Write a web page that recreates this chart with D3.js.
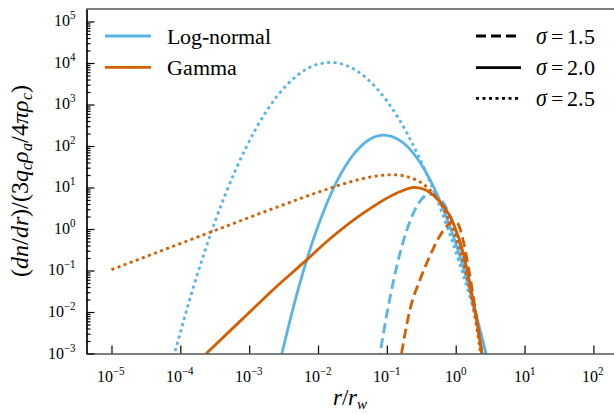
<!DOCTYPE html>
<html><head><meta charset="utf-8">
<script src="https://cdn.jsdelivr.net/npm/d3@7"></script>
<style>
@font-face { font-family: "RefSerif"; src: local("Liberation Serif"), local("LiberationSerif-Regular"); font-style: normal; }
@font-face { font-family: "RefSerif"; src: local("Liberation Serif Italic"), local("LiberationSerif-Italic"); font-style: italic; }
body{margin:0;background:#fff}
svg text, svg tspan { font-family: "RefSerif", "Liberation Serif"; }
</style>
</head><body>
<svg id="c" width="614" height="414" style="font-family:'Liberation Serif'"></svg>
<script>
// ---------- data ----------
const xTickExps = [-5,-4,-3,-2,-1,0,1,2];
const yTickExps = [-3,-2,-1,0,1,2,3,4,5];
const seriesNames = ["Log-normal","Gamma"];
const sigmaLabels = ["1.5","2.0","2.5"];

// Log-normal
const lnR15 = [0.07586,0.1,0.1259,0.1585,0.1995,0.2512,0.3162,0.3981,0.5012,0.631,0.7943,1.0,1.259,1.585,1.995,2.512];
const lnY15 = [5.93e-4,0.009004,0.06094,0.2988,1.061,2.731,5.088,6.867,6.714,4.754,2.439,0.9064,0.2438,0.04753,0.006714,6.87e-4];
const lnR20 = [2.818e-3,5.012e-3,8.913e-3,0.01585,0.02818,0.05012,0.08913,0.1585,0.2818,0.5012,0.8913,1.585,2.818];
const lnY20 = [6.67e-4,0.03017,0.6847,7.795,44.53,127.7,183.6,132.5,47.97,8.711,0.7939,0.0363,8.33e-4];
const lnR25 = [7.94e-5,1.585e-4,3.162e-4,6.31e-4,1.259e-3,2.512e-3,5.012e-3,0.01,0.01585,0.02512,0.05012,0.1,0.1995,0.3981,0.7943,1.585,2.818];
const lnY25 = [8.04e-4,0.0453,1.44,26.0,265.6,1538,5042,9365,10320,8836,4356,1217,192.6,17.27,0.877,0.02522,8.49e-4];

// Gamma
const gmR15 = [0.1629,0.2165,0.3027,0.4227,0.5902,0.7464,0.912,1.079,1.274,1.507,1.782,2.104,2.404];
const gmY15 = [0.001,0.01143,0.0601,0.227,0.687,1.19,1.57,1.33,0.549,0.138,0.0262,0.00422,0.001];
const gmR20 = [2.382e-4,7.943e-4,2.371e-3,6.457e-3,0.01493,0.04539,0.1387,0.2559,0.5284,0.9204,1.288,1.706,2.128,2.382];
const gmY20 = [0.001,0.00673,0.038,0.1655,0.581,2.411,7.295,10.06,5.53,1.386,0.2634,0.02878,0.003774,0.001];
const gmR25 = [1e-5,3.162e-5,1e-4,3.162e-4,1e-3,3.162e-3,0.01,0.03162,0.0631,0.1259,0.2512,0.3981,0.631,1.0,1.259,1.585,1.995,2.344];
const gmY25 = [0.105,0.2158,0.4455,0.919,1.891,3.86,7.684,14.12,18.41,20.25,15.9,9.603,3.645,0.6631,0.1891,0.03753,0.004719,7.93e-4];

// ---------- setup ----------
const colors = {"Log-normal":"#56B4E9","Gamma":"#D55E00"};
const dashes = {"1.5":"10,5","2.0":null,"2.5":"3,3.5"};
const curves = [
  {name:"Log-normal",sig:"1.5",r:lnR15,v:lnY15},
  {name:"Log-normal",sig:"2.0",r:lnR20,v:lnY20},
  {name:"Log-normal",sig:"2.5",r:lnR25,v:lnY25},
  {name:"Gamma",sig:"1.5",r:gmR15,v:gmY15},
  {name:"Gamma",sig:"2.0",r:gmR20,v:gmY20},
  {name:"Gamma",sig:"2.5",r:gmR25,v:gmY25}
];

const L=86.5, R=617.5, T=9, B=353.5;
const x = d3.scaleLog().domain([Math.pow(10,-5.363), Math.pow(10,2.35)]).range([L,R]);
const y = d3.scaleLog().domain([1e-3, Math.pow(10,5.301)]).range([B,T]);

const svg = d3.select("#c");

// curves
svg.append("defs").append("clipPath").attr("id","clip")
  .append("rect").attr("x",L).attr("y",T).attr("width",R-L).attr("height",B-T);
const line = d3.line().x(d=>x(d[0])).y(d=>y(d[1])).curve(d3.curveMonotoneX);
const gC = svg.append("g").attr("clip-path","url(#clip)");
curves.forEach(c=>{
  const pts = c.r.map((r,i)=>[r,c.v[i]]);
  gC.append("path").attr("d",line(pts)).attr("fill","none")
    .attr("stroke",colors[c.name]).attr("stroke-width",2.8)
    .attr("stroke-dasharray",dashes[c.sig]);
});

// axes
const majX = xTickExps.map(e=>Math.pow(10,e));
const majY = yTickExps.map(e=>Math.pow(10,e));
const minY = [];
for(let k=-3;k<=5;k++) for(let m=2;m<=9;m++){const v=m*Math.pow(10,k); if(v<=y.domain()[1]) minY.push(v);}
function ax(g){
  g.attr("font-family",null);
  g.selectAll("line").attr("stroke","#000").attr("stroke-width",1.2);
  g.select(".domain").attr("stroke","#000").attr("stroke-width",1.2); }
svg.append("g").attr("transform",`translate(0,${B})`)
  .call(d3.axisBottom(x).tickValues(majX).tickSize(-8).tickSizeOuter(0).tickFormat("")).call(ax);
svg.append("g").attr("transform",`translate(${L},0)`)
  .call(d3.axisLeft(y).tickValues(minY).tickSize(-4).tickSizeOuter(0).tickFormat("")).call(ax);
svg.append("g").attr("transform",`translate(${L},0)`)
  .call(d3.axisLeft(y).tickValues(majY).tickSize(-8).tickSizeOuter(0).tickFormat("")).call(ax);
svg.append("line").attr("x1",L).attr("x2",R).attr("y1",T).attr("y2",T).attr("stroke","#000").attr("stroke-width",1.2);

// text
function txt(size){ return svg.append("text").attr("font-size",size).attr("fill","#000"); }
function sup(t, exp){
  t.append("tspan").text("10");
  t.append("tspan").attr("dy",-7).attr("font-size",10.5).text(exp<0?"\u2212"+(-exp):""+exp);
}
xTickExps.forEach(e=>{
  const t = txt(15.5).attr("x",x(Math.pow(10,e))).attr("y",382).attr("text-anchor","middle");
  sup(t,e);
});
yTickExps.forEach(e=>{
  const t = txt(15.5).attr("x",76).attr("y",y(Math.pow(10,e))+5).attr("text-anchor","end");
  sup(t,e);
});
const xl = txt(23).attr("x",350).attr("y",405).attr("text-anchor","middle");
xl.append("tspan").attr("font-style","italic").text("r");
xl.append("tspan").text("/");
xl.append("tspan").attr("font-style","italic").text("r");
xl.append("tspan").attr("font-style","italic").attr("font-size",15).attr("dy",4).text("w");

const yl = txt(24).attr("transform","translate(28,181) rotate(-90)").attr("text-anchor","middle");
const parts = [
  ["(",0],["dn",1],["/",0],["dr",1],[")/(3",0],["q",1],["c",2],["\u03C1",1],["a",2],["/4",0],["\u03C0\u03C1",1],["c",2],[")",0]
];
let sub=false;
parts.forEach(([s,k])=>{
  const ts = yl.append("tspan").text(s);
  if(k>=1) ts.attr("font-style","italic");
  if(k===2){ ts.attr("font-size",16).attr("dy",sub?0:4); sub=true; }
  else if(sub){ ts.attr("dy",-4); sub=false; }
});
seriesNames.forEach((n,i)=>{
  const yy = [36,67.3][i];
  svg.append("line").attr("x1",105).attr("x2",151).attr("y1",yy).attr("y2",yy)
    .attr("stroke",colors[n]).attr("stroke-width",2.8);
  txt(22).attr("x",167).attr("y",yy+7.5).text(n);
});
sigmaLabels.forEach((s,i)=>{
  const yy = [36,67.7,98.3][i];
  svg.append("line").attr("x1",476).attr("x2",521).attr("y1",yy).attr("y2",yy)
    .attr("stroke","#000").attr("stroke-width",2.8).attr("stroke-dasharray",dashes[s]);
  const t = txt(22).attr("x",536).attr("y",yy+7.5);
  t.append("tspan").attr("font-style","italic").text("\u03C3");
  t.append("tspan").text("\u2009=\u2009"+s);
});
</script>
</body></html>
